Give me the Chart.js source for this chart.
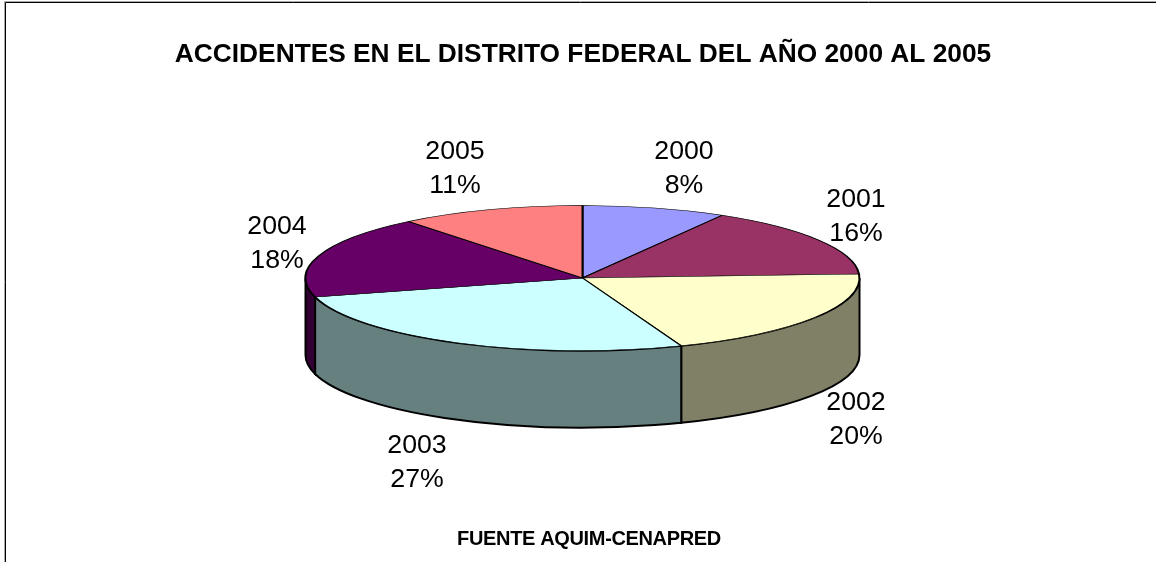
<!DOCTYPE html>
<html><head><meta charset="utf-8">
<style>html,body{margin:0;padding:0;background:#fff}#w{position:relative;width:1156px;height:562px}canvas{display:block}</style>
<script src="https://cdn.jsdelivr.net/npm/chart.js@4"></script></head>
<body><div id="w"><canvas id="c" width="1156" height="562"></canvas></div>
<script>
const categories = ['2000','2001','2002','2003','2004','2005'];
const values = [8.4,15.7,20.1,26.6,18.4,10.8];
const sliceColors = ['#9999ff','#993366','#ffffcc','#ccffff','#660066','#ff8080'];
const sideColors = ['#4d4d80','#4d1a33','#808066','#668080','#330033','#804040'];
const labelPositions = [[684,150],[856,198],[856,401],[417,444],[277,225],[455,150]];
const titleText = 'ACCIDENTES EN EL DISTRITO FEDERAL DEL AÑO 2000 AL 2005';
const sourceText = 'FUENTE AQUIM-CENAPRED';
const FONT = '"Liberation Sans", Arial, sans-serif';
const SQUASH = 0.262, CY = 278, CX = 582.5, DEPTH = 77;

const pie3d = {
  id: 'pie3d',
  beforeDraw(chart) {
    const ctx = chart.ctx;
    ctx.save();
    ctx.lineWidth = 1;
    ctx.strokeStyle = '#aaa';
    ctx.beginPath();
    ctx.moveTo(4.5, 562); ctx.lineTo(4.5, 1.5); ctx.lineTo(1156, 1.5);
    ctx.stroke();
    ctx.strokeStyle = '#000';
    ctx.beginPath();
    ctx.moveTo(5.5, 562); ctx.lineTo(5.5, 2.5); ctx.lineTo(1156, 2.5);
    ctx.stroke();
    ctx.restore();
  },
  beforeDatasetsDraw(chart) {
    const ctx = chart.ctx;
    const arcs = chart.getDatasetMeta(0).data;
    ctx.save();
    ctx.lineWidth = 2;
    ctx.strokeStyle = '#000';
    arcs.forEach((arc, i) => {
      const p = arc.getProps(['x','y','startAngle','endAngle','outerRadius'], true);
      const TAU = Math.PI*2;
      let a = p.startAngle, b = p.endAngle;
      const segs = [];
      [[0,Math.PI],[TAU,TAU+Math.PI]].forEach(([lo,hi]) => {
        const s = Math.max(a,lo), e = Math.min(b,hi);
        if (e > s) segs.push([s,e]);
      });
      segs.forEach(([s,e]) => {
        ctx.beginPath();
        ctx.ellipse(CX,CY,p.outerRadius,p.outerRadius*SQUASH,0,s,e,false);
        ctx.ellipse(CX,CY+DEPTH,p.outerRadius,p.outerRadius*SQUASH,0,e,s,true);
        ctx.closePath();
        ctx.fillStyle = sideColors[i];
        ctx.fill();
        ctx.stroke();
      });
    });
    const a0 = arcs[0];
    ctx.restore();
    ctx.save();
    ctx.translate(CX, CY);
    ctx.scale(1, SQUASH);
    ctx.translate(-a0.x, -a0.y);
  },
  afterDatasetsDraw(chart) {
    const ctx = chart.ctx;
    ctx.restore();
    ctx.save();
    ctx.fillStyle = '#000';
    ctx.textAlign = 'center';
    ctx.textBaseline = 'alphabetic';
    ctx.font = 'bold 26.3px ' + FONT;
    ctx.fillText(titleText, 583, 62);
    ctx.font = 'bold 20px ' + FONT;
    ctx.letterSpacing = '-0.35px';
    ctx.fillText(sourceText, 589, 545);
    ctx.letterSpacing = '0px';
    ctx.font = '26.7px ' + FONT;
    categories.forEach((c, i) => {
      const [x, y] = labelPositions[i];
      ctx.fillText(c, x, y + 9);
      ctx.fillText(Math.round(values[i]) + '%', x, y + 43);
    });
    ctx.restore();
  }
};

new Chart(document.getElementById('c'), {
  type: 'pie',
  data: { labels: categories, datasets: [{
    data: values, backgroundColor: sliceColors,
    borderColor: '#000', borderWidth: 2, borderAlign: 'center', hoverOffset: 0
  }]},
  options: {
    responsive: false, animation: false, devicePixelRatio: 1,
    layout: { padding: { top: 3, bottom: 3, left: 0, right: 0 } },
    plugins: { legend: { display: false }, title: { display: false }, tooltip: { enabled: false } }
  },
  plugins: [pie3d]
});
</script></body></html>
